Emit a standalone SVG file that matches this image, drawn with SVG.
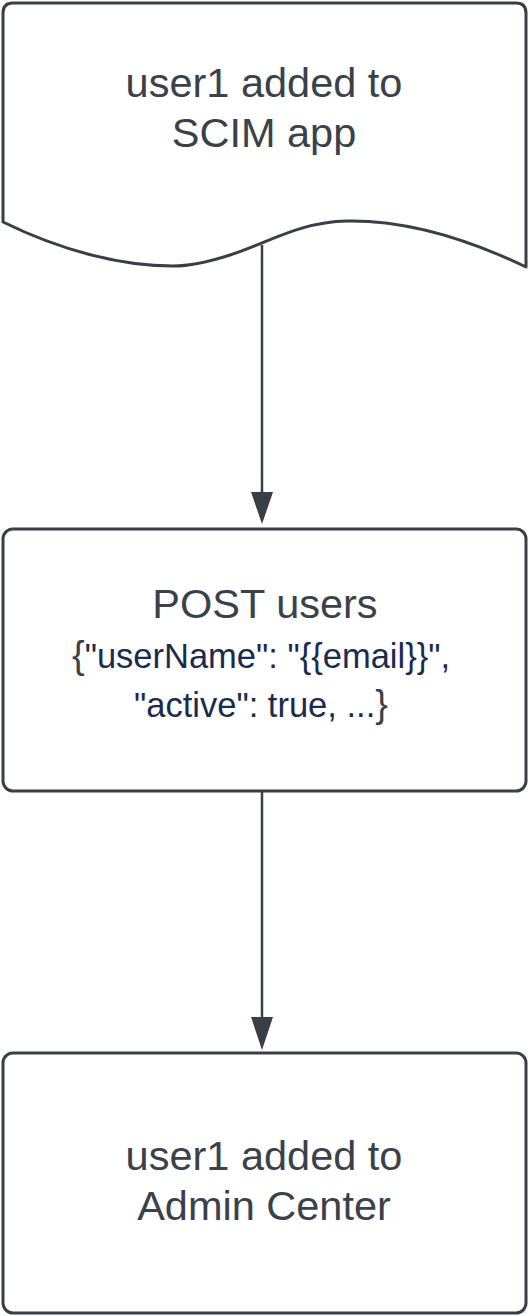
<svg xmlns="http://www.w3.org/2000/svg" width="529" height="1316" viewBox="0 0 529 1316">
<defs>
<style>
.shape{fill:#ffffff;stroke:#3a3f47;stroke-width:3;stroke-linejoin:round}
.lbl{font-family:"Liberation Sans",Arial,sans-serif;font-size:41.5px;fill:#3a414a;text-anchor:middle}
.code{font-family:"Liberation Sans",Arial,sans-serif;font-size:34.5px;fill:#1b2a4e;text-anchor:middle}
.brace{fill:#3a414a;font-size:38px}
.conn{stroke:#3a3f47;stroke-width:2.5;fill:none}
.head{fill:#3a3f47}
</style>
</defs>
<rect width="529" height="1316" fill="#ffffff"/>
<g id="connectors">
<line class="conn" x1="262" y1="245" x2="262" y2="494"/>
<path class="head" d="M251,492 L273,492 L262,524 Z"/>
<line class="conn" x1="262" y1="791" x2="262" y2="1019"/>
<path class="head" d="M251,1017 L273,1017 L262,1050 Z"/>
</g>
<g id="node-scim">
<path class="shape" d="M3,222 L3,13 Q3,3 13,3 L516,3 Q526,3 526,13 L526,267 C470,240 410,220 347,221 C300,222 270,242 230,255 C205,263 190,266 173,266 C120,266 60,250 3,222 Z"/>
<text class="lbl" x="264" y="97">user1 added to</text>
<text class="lbl" x="264" y="147">SCIM app</text>
</g>
<g id="node-post">
<rect class="shape" x="3" y="529" width="523" height="262" rx="10" ry="10"/>
<text class="lbl" x="265" y="618">POST users</text>
<text class="code" x="261" y="668"><tspan class="brace">{</tspan>"userName": "{{email}}",</text>
<text class="code" x="261" y="717">"active": true, ...<tspan class="brace">}</tspan></text>
</g>
<g id="node-admin">
<rect class="shape" x="3" y="1053" width="523" height="260" rx="10" ry="10"/>
<text class="lbl" x="264" y="1170">user1 added to</text>
<text class="lbl" x="264" y="1220">Admin Center</text>
</g>
</svg>
